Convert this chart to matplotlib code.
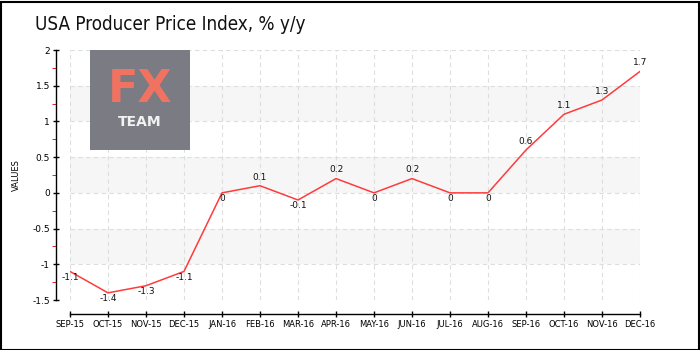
import matplotlib
matplotlib.use("Agg")
import matplotlib.pyplot as plt
from matplotlib.patches import Rectangle
from matplotlib.ticker import FixedLocator
from matplotlib import font_manager

months = ["SEP-15", "OCT-15", "NOV-15", "DEC-15", "JAN-16", "FEB-16", "MAR-16", "APR-16",
          "MAY-16", "JUN-16", "JUL-16", "AUG-16", "SEP-16", "OCT-16", "NOV-16", "DEC-16"]
values = [-1.1, -1.4, -1.3, -1.1, 0, 0.1, -0.1, 0.2, 0, 0.2, 0, 0, 0.6, 1.1, 1.3, 1.7]
labels = ["-1.1", "-1.4", "-1.3", "-1.1", "0", "0.1", "-0.1", "0.2", "0", "0.2", "0", "0",
          "0.6", "1.1", "1.3", "1.7"]
yticks = [-1.5, -1, -0.5, 0, 0.5, 1, 1.5, 2]
ytick_labels = ["-1.5", "-1", "-0.5", "0", "0.5", "1", "1.5", "2"]
bands = [(-1, -0.5), (0, 0.5), (1, 1.5)]

W, H = 700, 350
fig = plt.figure(figsize=(7, 3.5), dpi=100)
fig.patch.set_facecolor("white")
fig.patches.append(Rectangle((0.5 / W, 0.5 / H), 1 - 2 / W, 1 - 2 / H, transform=fig.transFigure,
                             fill=False, edgecolor="black", linewidth=1.5))

ax = fig.add_axes([70 / W, 1 - 300 / H, 570 / W, 250 / H])
x = list(range(len(months)))
ax.set_xlim(0, len(months) - 1)
ax.set_ylim(-1.5, 2)

for lo, hi in bands:
    ax.axhspan(lo, hi, color="#f6f6f6", zorder=0, lw=0)

ax.grid(True, which="major", color="#dedede", linestyle=(0, (4, 3)), linewidth=0.8)
ax.set_axisbelow(True)

ax.plot(x, values, color="#ff3b3b", linewidth=1.1, zorder=3)

for xi, v, lab in zip(x, values, labels):
    if v > 0:
        ax.annotate(lab, (xi, v), xytext=(0, 3), textcoords="offset points",
                    ha="center", va="bottom", fontsize=6.5, color="#111")
    else:
        ax.annotate(lab, (xi, v), xytext=(0, -1), textcoords="offset points",
                    ha="center", va="top", fontsize=6.5, color="#111")

ax.spines["top"].set_visible(False)
ax.spines["right"].set_visible(False)
ax.spines["left"].set_position(("outward", 10))
ax.spines["bottom"].set_position(("outward", 10))
ax.spines["left"].set_linewidth(1.0)
ax.spines["bottom"].set_linewidth(1.0)

ax.set_xticks(x)
ax.set_xticklabels(months, fontsize=6)
ax.set_yticks(yticks)
ax.set_yticklabels(ytick_labels, fontsize=6.5)
ax.yaxis.set_minor_locator(FixedLocator([-1.25, -0.75, -0.25, 0.25, 0.75, 1.25, 1.75]))
ax.tick_params(axis="y", which="minor", length=3, color="#e00000", direction="out")
ax.tick_params(axis="both", which="major", length=5, direction="inout", width=1, pad=2)
ax.set_ylabel("VALUES", fontsize=6, labelpad=8)

title_font = font_manager.FontProperties(family="DejaVu Sans", stretch="condensed", size=13.5)
fig.text(35 / W, 1 - 24 / H, "USA Producer Price Index, % y/y", fontproperties=title_font,
         va="center", ha="left", color="#111")

# logo
logo = fig.add_axes([90 / W, 1 - 150 / H, 100 / W, 100 / H])
logo.set_xlim(0, 1)
logo.set_ylim(0, 1)
logo.axis("off")
logo.add_patch(Rectangle((0, 0), 1, 1, color="#7b7b83"))
logo.text(0.5, 0.61, "FX", ha="center", va="center", fontsize=32, color="#f07260",
          fontweight="bold", family="DejaVu Sans")
logo.text(0.5, 0.28, "TEAM", ha="center", va="center", fontsize=10, color="#f2f2f2",
          fontweight="bold", family="DejaVu Sans")

fig.savefig("out.png", dpi=100)
